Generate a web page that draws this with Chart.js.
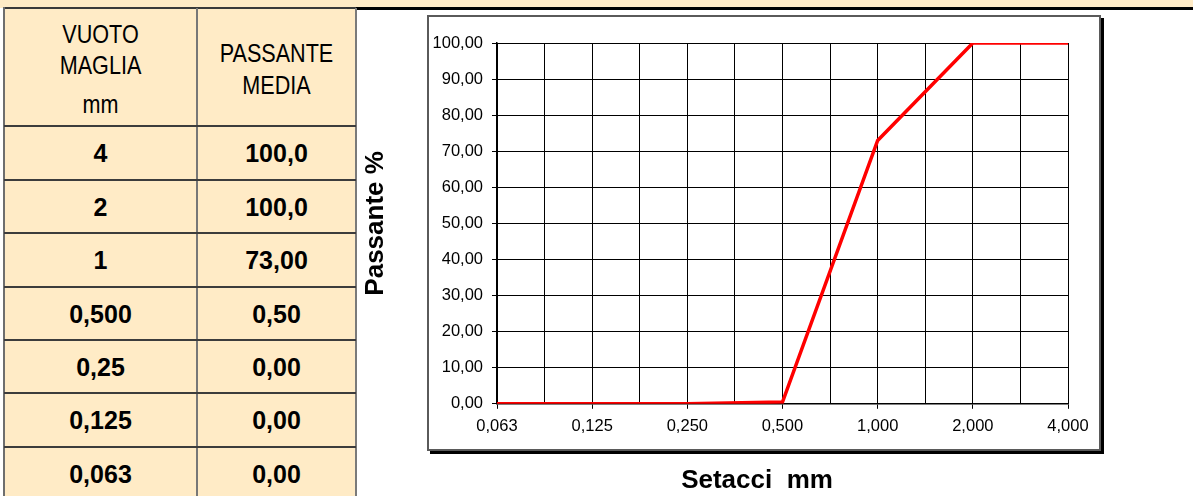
<!DOCTYPE html>
<html>
<head>
<meta charset="utf-8">
<script src="https://cdn.jsdelivr.net/npm/chart.js@4.4.1/dist/chart.umd.min.js"></script>
<style>
	body { margin: 0; width: 1193px; height: 496px; overflow: hidden; background: #fff; font-family: "Liberation Sans", Arial, sans-serif; position: relative; }
	.abs { position: absolute; }
	.beige { background: #ffebc6; }
	.hline { position: absolute; height: 2px; background: #3c3c3c; left: 4px; width: 352px; }
	.head { position: absolute; font-size: 26px; line-height: 32px; height: 32px; text-align: center; transform: scaleX(0.83); color: #000; }
	.cell { position: absolute; font-size: 25px; font-weight: bold; text-align: center; color: #000; line-height: 32px; height: 32px; }
	#box { position: absolute; left: 427px; top: 15px; width: 674px; height: 436px; box-sizing: border-box; border: 2px solid #5a5a5a; box-shadow: 3px 3px 0 #000; background: #fff; }
	#wrap { position: absolute; left: 357px; top: 10px; width: 800px; height: 486px; }
</style>
</head>
<body>
<div class="abs beige" style="left:0;top:0;width:1193px;height:8px"></div>
<div class="abs beige" style="left:4px;top:8px;width:352px;height:488px"></div>
<div class="abs" style="left:4px;top:7px;width:352px;height:2px;background:#3a3a3a"></div>
<div class="abs" style="left:356px;top:7px;width:837px;height:3px;background:#000"></div>
<div class="abs" style="left:3px;top:7px;width:2px;height:489px;background:#6e6e6e"></div>
<div class="abs" style="left:196px;top:8px;width:2px;height:488px;background:#777"></div>
<div class="abs" style="left:355px;top:8px;width:2px;height:488px;background:#7a7a7a"></div>
<div id="rows"></div>

<div class="head" style="left:5px;width:191px;top:18px">VUOTO</div>
<div class="head" style="left:5px;width:191px;top:49px">MAGLIA</div>
<div class="head" style="left:5px;width:191px;top:88px">mm</div>
<div class="head" style="left:198px;width:157px;top:37px">PASSANTE</div>
<div class="head" style="left:198px;width:157px;top:69px">MEDIA</div>

<div id="box"></div>
<div id="wrap"><canvas id="curve" width="800" height="486"></canvas></div>

<script>
// table values
const tableSizes = ["4", "2", "1", "0,500", "0,25", "0,125", "0,063"];
const tablePassing = ["100,0", "100,0", "73,00", "0,50", "0,00", "0,00", "0,00"];
const rowLines = [126, 180, 233, 287, 340, 393, 447];

// chart values
const sieveLabels = ["0,063", "0,125", "0,250", "0,500", "1,000", "2,000", "4,000"];
const passing = [0, 0, 0, 0.5, 73, 100, 100];

const rows = document.getElementById("rows");
rowLines.forEach((y, i) => {
	const line = document.createElement("div");
	line.className = "hline";
	line.style.top = (y - 1) + "px";
	rows.appendChild(line);
	const next = i + 1 < rowLines.length ? rowLines[i + 1] : 500;
	const mid = (y + next) / 2;
	const a = document.createElement("div");
	a.className = "cell";
	a.style.left = "5px";
	a.style.width = "191px";
	a.style.top = (mid - 16) + "px";
	a.textContent = tableSizes[i];
	rows.appendChild(a);
	const b = document.createElement("div");
	b.className = "cell";
	b.style.left = "198px";
	b.style.width = "157px";
	b.style.top = (mid - 16) + "px";
	b.textContent = tablePassing[i];
	rows.appendChild(b);
});

Chart.defaults.font.family = '"Liberation Sans", Arial, sans-serif';
Chart.defaults.color = "#000";

const data = {
	datasets: [
		{
			data: sieveLabels.map((_, i) => ({ x: i, y: passing[i] })),
			borderColor: "#ff0000",
			borderWidth: 3.5,
			pointRadius: 0,
			tension: 0,
			fill: false,
		},
	],
};

const config = {
	type: "line",
	data: data,
	options: {
		responsive: false,
		animation: false,
		layout: { padding: { top: 33, left: 0, right: 0, bottom: 0 } },
		scales: {
			x: {
				type: "linear",
				min: 0,
				max: sieveLabels.length - 1,
				afterFit: (s) => { s.height = 61; },
				ticks: {
					stepSize: 0.5,
					autoSkip: false,
					maxRotation: 0,
					padding: 8,
					font: { size: 16.5 },
					callback: (v) => (Number.isInteger(v) ? sieveLabels[v] : ""),
				},
				grid: {
					color: "#000",
					lineWidth: 1,
					tickLength: 5,
					tickColor: (ctx) => (ctx.tick && Number.isInteger(ctx.tick.value) ? "#000" : "rgba(0,0,0,0)"),
				},
				border: { color: "#000", width: 1.5 },
			},
			y: {
				min: 0,
				max: 100,
				afterFit: (s) => { s.width = 140; },
				ticks: {
					stepSize: 10,
					padding: 9,
					font: { size: 16.5 },
					callback: (v) => v.toFixed(2).replace(".", ","),
				},
				grid: { color: "#000", lineWidth: 1, tickLength: 5, tickColor: "#000" },
				border: { color: "#000", width: 1.5 },
				title: {
					display: true,
					text: "Passante %",
					font: { size: 26, weight: "bold" },
					padding: { top: 3, bottom: 0 },
				},
			},
			y2: {
				position: "right",
				afterFit: (s) => { s.width = 89; },
				ticks: { display: false },
				grid: { display: false, drawTicks: false },
				border: { display: false },
			},
		},
		plugins: {
			legend: false,
			tooltip: { enabled: false },
			title: {
				display: true,
				position: "bottom",
				text: "Setacci  mm",
				font: { size: 26, weight: "bold" },
				padding: 0,
			},
		},
	},
};

const curveChart = new Chart(document.getElementById("curve"), config);
</script>
</body>
</html>
